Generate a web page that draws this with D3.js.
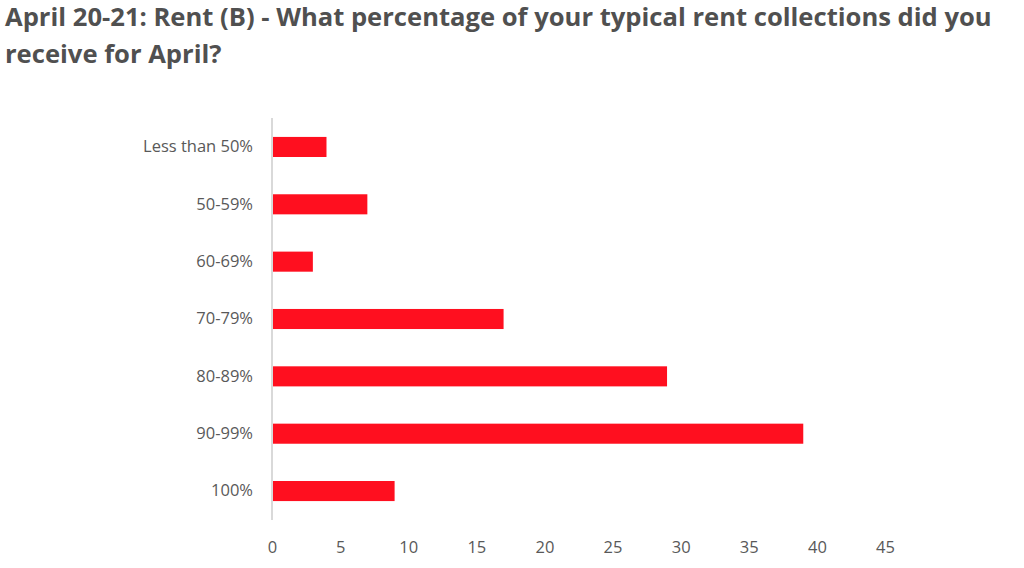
<!DOCTYPE html>
<html>
<head>
<meta charset="utf-8">
<script src="https://cdn.jsdelivr.net/npm/d3@7"></script>
<style>
  body { margin: 0; background: #fff; }
  svg text { font-family: "Open Sans", sans-serif; }
</style>
</head>
<body>
<div id="chart"></div>
<script>
// Rent collections survey, April 20-21
const categories = ['Less than 50%', '50-59%', '60-69%', '70-79%', '80-89%', '90-99%', '100%'];
const values = [4, 7, 3, 17, 29, 39, 9];
const xTicks = [0, 5, 10, 15, 20, 25, 30, 35, 40, 45];
const titleLines = [
    'April 20-21: Rent (B) - What percentage of your typical rent collections did you',
    'receive for April?'
];

const width = 1024, height = 568;
const margin = { top: 118, right: 139, bottom: 48, left: 272 };

const svg = d3.select('#chart').append('svg')
    .attr('width', width)
    .attr('height', height);

// Title
svg.append('g').selectAll('text')
    .data(titleLines)
    .join('text')
    .attr('x', 5)
    .attr('y', (d, i) => 26 + i * 37)
    .attr('font-size', '25.6px')
    .attr('font-weight', 'bold')
    .attr('fill', '#505050')
    .text(d => d);

const x = d3.scaleLinear()
    .domain([0, 45])
    .range([margin.left, width - margin.right]);

const y = d3.scaleBand()
    .domain(categories)
    .range([margin.top, height - margin.bottom])
    .paddingInner(0.65)
    .paddingOuter(0.33);

// Bars
svg.append('g').selectAll('rect')
    .data(categories)
    .join('rect')
    .attr('x', x(0))
    .attr('y', d => y(d))
    .attr('width', (d, i) => x(values[i]) - x(0))
    .attr('height', y.bandwidth())
    .attr('fill', '#ff0f1f');

// Category labels
svg.append('g')
    .attr('transform', `translate(${x(0)},0)`)
    .call(d3.axisLeft(y).tickSize(0).tickPadding(19))
    .call(g => g.select('.domain').remove())
    .selectAll('text')
    .attr('font-size', '16.5px')
    .attr('fill', '#595959');

// Vertical axis line
svg.append('line')
    .attr('x1', x(0)).attr('x2', x(0))
    .attr('y1', margin.top).attr('y2', height - margin.bottom)
    .attr('stroke', '#d9d9d9')
    .attr('stroke-width', 2);

// X tick labels
svg.append('g')
    .attr('transform', `translate(0,${height - margin.bottom})`)
    .call(d3.axisBottom(x).tickValues(xTicks).tickSize(0).tickPadding(21))
    .call(g => g.select('.domain').remove())
    .selectAll('text')
    .attr('font-size', '16.5px')
    .attr('fill', '#595959');
</script>
</body>
</html>
